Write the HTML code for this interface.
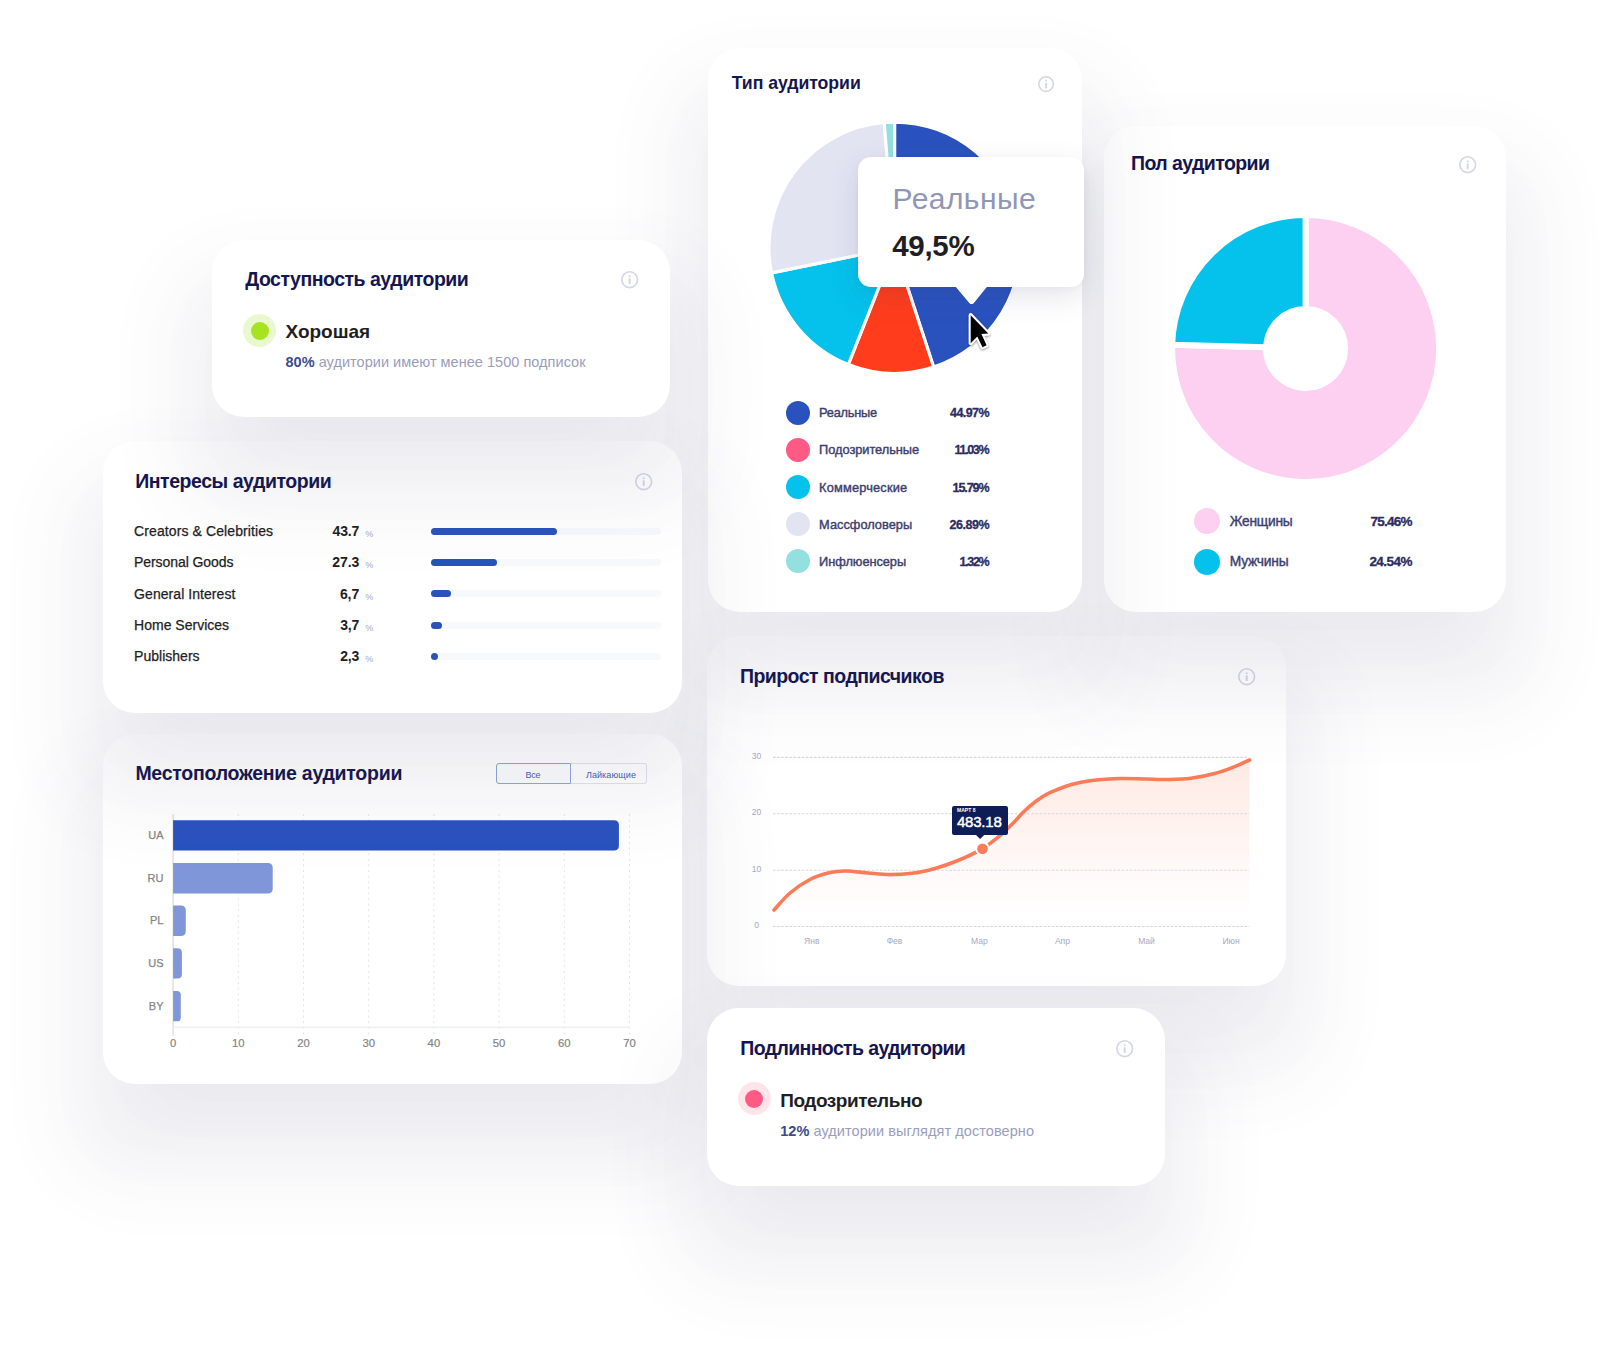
<!DOCTYPE html>
<html lang="ru">
<head>
<meta charset="utf-8">
<title>Аналитика аудитории</title>
<style>
*{box-sizing:border-box}
html,body{margin:0;padding:0;background:#fff}
body{width:1612px;height:1350px;position:relative;overflow:hidden;font-family:'Liberation Sans', sans-serif}
.abs{position:absolute}
.card{position:absolute;background:#fff;box-shadow:0 60px 64px -50px rgba(88,84,130,0.048), 0 60px 64px 0 rgba(88,84,130,0.048), 0 60px 64px 50px rgba(88,84,130,0.048)}
.layer{position:absolute;left:0;top:0;width:1612px;height:1350px;pointer-events:none}
.t{position:absolute;white-space:nowrap;line-height:1;margin:0}
.dot{border-radius:50%}
.dot i{position:absolute;left:7.5px;top:7.5px;width:18px;height:18px;border-radius:50%}
.track{background:#f8f9fd;border-radius:4px}
.track i{position:absolute;left:0;top:0;height:7px;border-radius:4px;background:#2a52be;min-width:7px}
.tog{border:1px solid #e0e2ee;background:rgba(255,255,255,0.3)}
.tog.on{border-color:#8fa5e2;background:rgba(246,247,253,0.3)}
.tip{background:#fff;border-radius:13px;box-shadow:0 10px 30px rgba(60,60,110,0.13),0 2px 6px rgba(60,60,110,0.04)}
</style>
</head>
<body>
<section class="card c1" style="left:212px;top:240px;width:458px;height:177px;z-index:7;border-radius:32px"></section>
<div class="layer" style="z-index:7">
<span class="t" style="left:245.30px;top:270.30px;font-size:19.5px;font-weight:700;color:#15164f;letter-spacing:-0.484px;">Доступность аудитории</span>
<svg class="abs" style="left:620.3px;top:270.1px" width="19.4" height="19.4" viewBox="-9.70 -9.70 19.40 19.40"><circle r="7.90" fill="none" stroke="#d5d6e6" stroke-width="1.6"/><circle cx="0" cy="-3.5" r="1.05" fill="#d5d6e6"/><rect x="-1" y="-1.4" width="2" height="5.8" rx="0.6" fill="#d5d6e6"/></svg><div class="abs dot" style="left:243px;top:314px;width:33px;height:33px;background:#e9f8cf"><i style="background:#a6e422"></i></div><span class="t" style="left:285.50px;top:322.00px;font-size:19px;font-weight:700;color:#1e1e24;letter-spacing:-0.006px;">Хорошая</span>
<span class="t" style="left:285.50px;top:355.10px;font-size:14.5px;font-weight:400;color:#9a9dbb;letter-spacing:0.032px;"><b style="color:#3d4b8d">80%</b> аудитории имеют менее 1500 подписок</span>

</div>

<section class="card c2" style="left:103px;top:441px;width:579px;height:271.5px;z-index:5;border-radius:32px"></section>
<div class="layer" style="z-index:5">
<span class="t" style="left:135.20px;top:472.10px;font-size:19.5px;font-weight:700;color:#15164f;letter-spacing:-0.457px;">Интересы аудитории</span>
<svg class="abs" style="left:634.3px;top:471.9px" width="19.4" height="19.4" viewBox="-9.70 -9.70 19.40 19.40"><circle r="7.90" fill="none" stroke="#d5d6e6" stroke-width="1.6"/><circle cx="0" cy="-3.5" r="1.05" fill="#d5d6e6"/><rect x="-1" y="-1.4" width="2" height="5.8" rx="0.6" fill="#d5d6e6"/></svg><span class="t" style="left:134.10px;top:524.10px;font-size:14px;font-weight:400;color:#1e1e24;letter-spacing:0.098px;-webkit-text-stroke:0.25px #1e1e24;">Creators &amp; Celebrities</span>
<span class="t" style="right:1253.02px;top:524.10px;font-size:14px;font-weight:700;color:#1e1e24;letter-spacing:-0.217px;">43.7</span>
<span class="t" style="left:365.20px;top:529.50px;font-size:9px;font-weight:400;color:#a3a6c8;letter-spacing:0.000px;">%</span>
<div class="abs track" style="left:431.3px;top:527.8px;width:229.7px;height:7px"><i style="width:125.6px"></i></div><span class="t" style="left:134.10px;top:555.30px;font-size:14px;font-weight:400;color:#1e1e24;letter-spacing:-0.085px;-webkit-text-stroke:0.25px #1e1e24;">Personal Goods</span>
<span class="t" style="right:1252.92px;top:555.30px;font-size:14px;font-weight:700;color:#1e1e24;letter-spacing:-0.117px;">27.3</span>
<span class="t" style="left:365.20px;top:560.70px;font-size:9px;font-weight:400;color:#a3a6c8;letter-spacing:0.000px;">%</span>
<div class="abs track" style="left:431.3px;top:559.1px;width:229.7px;height:7px"><i style="width:65.7px"></i></div><span class="t" style="left:134.10px;top:587.20px;font-size:14px;font-weight:400;color:#1e1e24;letter-spacing:0.061px;-webkit-text-stroke:0.25px #1e1e24;">General Interest</span>
<span class="t" style="right:1252.88px;top:587.20px;font-size:14px;font-weight:700;color:#1e1e24;letter-spacing:-0.084px;">6,7</span>
<span class="t" style="left:365.20px;top:592.60px;font-size:9px;font-weight:400;color:#a3a6c8;letter-spacing:0.000px;">%</span>
<div class="abs track" style="left:431.3px;top:590.4px;width:229.7px;height:7px"><i style="width:19.9px"></i></div><span class="t" style="left:134.10px;top:618.40px;font-size:14px;font-weight:400;color:#1e1e24;letter-spacing:0.007px;-webkit-text-stroke:0.25px #1e1e24;">Home Services</span>
<span class="t" style="right:1253.03px;top:618.40px;font-size:14px;font-weight:700;color:#1e1e24;letter-spacing:-0.234px;">3,7</span>
<span class="t" style="left:365.20px;top:623.80px;font-size:9px;font-weight:400;color:#a3a6c8;letter-spacing:0.000px;">%</span>
<div class="abs track" style="left:431.3px;top:621.8px;width:229.7px;height:7px"><i style="width:10.6px"></i></div><span class="t" style="left:134.10px;top:649.20px;font-size:14px;font-weight:400;color:#1e1e24;letter-spacing:0.014px;-webkit-text-stroke:0.25px #1e1e24;">Publishers</span>
<span class="t" style="right:1253.03px;top:649.20px;font-size:14px;font-weight:700;color:#1e1e24;letter-spacing:-0.234px;">2,3</span>
<span class="t" style="left:365.20px;top:654.60px;font-size:9px;font-weight:400;color:#a3a6c8;letter-spacing:0.000px;">%</span>
<div class="abs track" style="left:431.3px;top:653.1px;width:229.7px;height:7px"><i style="width:6.7px"></i></div>
</div>

<section class="card c3" style="left:103px;top:734px;width:578.5px;height:349.5px;z-index:4;border-radius:32px"></section>
<div class="layer" style="z-index:4">
<span class="t" style="left:135.40px;top:764.30px;font-size:19.5px;font-weight:700;color:#15164f;letter-spacing:-0.260px;">Местоположение аудитории</span>
<div class="abs tog on" style="left:496px;top:762.9px;width:75px;height:21.5px;border-radius:3px 0 0 3px"></div><div class="abs tog" style="left:570.5px;top:762.9px;width:76px;height:21.5px;border-radius:0 3px 3px 0;border-left:none"></div><span class="t" style="left:532.82px;transform:translateX(-50%);top:770.80px;font-size:9px;font-weight:400;color:#3f5fc3;letter-spacing:-0.358px;">Все</span>
<span class="t" style="left:610.94px;transform:translateX(-50%);top:770.80px;font-size:9px;font-weight:400;color:#3f5fc3;letter-spacing:0.090px;">Лайкающие</span>
<svg class="abs" style="left:0;top:0" width="1612" height="1350" viewBox="0 0 1612 1350"><line x1="238.3" y1="814" x2="238.3" y2="1034.5" stroke="#e4e4e6" stroke-width="1" stroke-dasharray="2 3.6"/><line x1="303.5" y1="814" x2="303.5" y2="1034.5" stroke="#e4e4e6" stroke-width="1" stroke-dasharray="2 3.6"/><line x1="368.7" y1="814" x2="368.7" y2="1034.5" stroke="#e4e4e6" stroke-width="1" stroke-dasharray="2 3.6"/><line x1="433.9" y1="814" x2="433.9" y2="1034.5" stroke="#e4e4e6" stroke-width="1" stroke-dasharray="2 3.6"/><line x1="499.1" y1="814" x2="499.1" y2="1034.5" stroke="#e4e4e6" stroke-width="1" stroke-dasharray="2 3.6"/><line x1="564.3" y1="814" x2="564.3" y2="1034.5" stroke="#e4e4e6" stroke-width="1" stroke-dasharray="2 3.6"/><line x1="629.5" y1="814" x2="629.5" y2="1034.5" stroke="#e4e4e6" stroke-width="1" stroke-dasharray="2 3.6"/><line x1="173.1" y1="814" x2="173.1" y2="1036" stroke="#d2d2d4" stroke-width="1"/><line x1="173.1" y1="1027.2" x2="629.6" y2="1027.2" stroke="#efeff1" stroke-width="1.4"/><path d="M173.1,820.2 H613.9 Q618.9,820.2 618.9,825.2 V845.6 Q618.9,850.6 613.9,850.6 H173.1 Z" fill="#2a52be"/><path d="M173.1,863 H267.7 Q272.7,863 272.7,868.0 V888.4 Q272.7,893.4 267.7,893.4 H173.1 Z" fill="#7f96d9"/><path d="M173.1,905.6 H180.8 Q185.8,905.6 185.8,910.6 V931.0 Q185.8,936.0 180.8,936.0 H173.1 Z" fill="#7f96d9"/><path d="M173.1,948.2 H177.5 Q181.9,948.2 181.9,952.6 V974.2 Q181.9,978.6 177.5,978.6 H173.1 Z" fill="#7f96d9"/><path d="M173.1,990.9 H176.9 Q180.8,990.9 180.8,994.8 V1017.4 Q180.8,1021.3 176.9,1021.3 H173.1 Z" fill="#7f96d9"/></svg><span class="t" style="right:1448.50px;top:829.80px;font-size:11px;font-weight:400;color:#858585;letter-spacing:0.000px;-webkit-text-stroke:0.25px #858585;">UA</span>
<span class="t" style="right:1448.50px;top:872.60px;font-size:11px;font-weight:400;color:#858585;letter-spacing:0.000px;-webkit-text-stroke:0.25px #858585;">RU</span>
<span class="t" style="right:1448.50px;top:915.20px;font-size:11px;font-weight:400;color:#858585;letter-spacing:0.000px;-webkit-text-stroke:0.25px #858585;">PL</span>
<span class="t" style="right:1448.50px;top:957.80px;font-size:11px;font-weight:400;color:#858585;letter-spacing:0.000px;-webkit-text-stroke:0.25px #858585;">US</span>
<span class="t" style="right:1448.50px;top:1000.50px;font-size:11px;font-weight:400;color:#858585;letter-spacing:0.000px;-webkit-text-stroke:0.25px #858585;">BY</span>
<span class="t" style="left:173.10px;transform:translateX(-50%);top:1038.00px;font-size:11.3px;font-weight:400;color:#858585;letter-spacing:0.000px;-webkit-text-stroke:0.2px #858585;">0</span>
<span class="t" style="left:238.30px;transform:translateX(-50%);top:1038.00px;font-size:11.3px;font-weight:400;color:#858585;letter-spacing:0.000px;-webkit-text-stroke:0.2px #858585;">10</span>
<span class="t" style="left:303.50px;transform:translateX(-50%);top:1038.00px;font-size:11.3px;font-weight:400;color:#858585;letter-spacing:0.000px;-webkit-text-stroke:0.2px #858585;">20</span>
<span class="t" style="left:368.70px;transform:translateX(-50%);top:1038.00px;font-size:11.3px;font-weight:400;color:#858585;letter-spacing:0.000px;-webkit-text-stroke:0.2px #858585;">30</span>
<span class="t" style="left:433.90px;transform:translateX(-50%);top:1038.00px;font-size:11.3px;font-weight:400;color:#858585;letter-spacing:0.000px;-webkit-text-stroke:0.2px #858585;">40</span>
<span class="t" style="left:499.10px;transform:translateX(-50%);top:1038.00px;font-size:11.3px;font-weight:400;color:#858585;letter-spacing:0.000px;-webkit-text-stroke:0.2px #858585;">50</span>
<span class="t" style="left:564.30px;transform:translateX(-50%);top:1038.00px;font-size:11.3px;font-weight:400;color:#858585;letter-spacing:0.000px;-webkit-text-stroke:0.2px #858585;">60</span>
<span class="t" style="left:629.50px;transform:translateX(-50%);top:1038.00px;font-size:11.3px;font-weight:400;color:#858585;letter-spacing:0.000px;-webkit-text-stroke:0.2px #858585;">70</span>

</div>

<section class="card c4" style="left:708px;top:48px;width:374px;height:564.3px;z-index:3;border-radius:32px"></section>
<div class="layer" style="z-index:3">
<span class="t" style="left:731.80px;top:74.90px;font-size:17.7px;font-weight:700;color:#15164f;letter-spacing:-0.061px;">Тип аудитории</span>
<svg class="abs" style="left:1037.4px;top:74.8px" width="18.2" height="18.2" viewBox="-9.10 -9.10 18.20 18.20"><circle r="7.30" fill="none" stroke="#d5d6e6" stroke-width="1.6"/><circle cx="0" cy="-3.5" r="1.05" fill="#d5d6e6"/><rect x="-1" y="-1.4" width="2" height="5.8" rx="0.6" fill="#d5d6e6"/></svg><svg class="abs" style="left:0;top:0" width="1612" height="1350" viewBox="0 0 1612 1350"><path d="M894.60,247.70 L894.60,122.10 A125.6,125.6 0 0 1 933.64,367.08 Z" fill="#2a52be" stroke="#fff" stroke-width="3.1" stroke-linejoin="round"/><path d="M894.60,247.70 L933.64,367.08 A125.6,125.6 0 0 1 848.36,364.48 Z" fill="#ff3d1c" stroke="#fff" stroke-width="3.1" stroke-linejoin="round"/><path d="M894.60,247.70 L848.36,364.48 A125.6,125.6 0 0 1 771.55,272.86 Z" fill="#04c2eb" stroke="#fff" stroke-width="3.1" stroke-linejoin="round"/><path d="M894.60,247.70 L771.55,272.86 A125.6,125.6 0 0 1 884.19,122.53 Z" fill="#e2e4f2" stroke="#fff" stroke-width="3.1" stroke-linejoin="round"/><path d="M894.60,247.70 L884.19,122.53 A125.6,125.6 0 0 1 894.60,122.10 Z" fill="#93e0e0" stroke="#fff" stroke-width="3.1" stroke-linejoin="round"/></svg><div class="abs" style="left:785.8px;top:400.6px;width:24px;height:24px;border-radius:50%;background:#2a52be"></div><span class="t" style="left:819.10px;top:407.30px;font-size:12.8px;font-weight:400;color:#3c3e6c;letter-spacing:-0.248px;-webkit-text-stroke:0.4px #3c3e6c;">Реальные</span>
<span class="t" style="right:622.98px;top:407.30px;font-size:12.5px;font-weight:700;color:#2b2c60;letter-spacing:-0.581px;-webkit-text-stroke:0.3px #2b2c60;">44.97%</span>
<div class="abs" style="left:785.8px;top:437.7px;width:24px;height:24px;border-radius:50%;background:#ff5a84"></div><span class="t" style="left:819.10px;top:444.40px;font-size:12.8px;font-weight:400;color:#3c3e6c;letter-spacing:-0.042px;-webkit-text-stroke:0.4px #3c3e6c;">Подозрительные</span>
<span class="t" style="right:623.74px;top:444.40px;font-size:12.5px;font-weight:700;color:#2b2c60;letter-spacing:-1.344px;-webkit-text-stroke:0.3px #2b2c60;">11.03%</span>
<div class="abs" style="left:785.8px;top:474.9px;width:24px;height:24px;border-radius:50%;background:#04c2eb"></div><span class="t" style="left:819.10px;top:481.60px;font-size:12.8px;font-weight:400;color:#3c3e6c;letter-spacing:0.166px;-webkit-text-stroke:0.4px #3c3e6c;">Коммерческие</span>
<span class="t" style="right:623.48px;top:481.60px;font-size:12.5px;font-weight:700;color:#2b2c60;letter-spacing:-1.081px;-webkit-text-stroke:0.3px #2b2c60;">15.79%</span>
<div class="abs" style="left:785.8px;top:511.8px;width:24px;height:24px;border-radius:50%;background:#e2e4f2"></div><span class="t" style="left:819.10px;top:518.50px;font-size:12.8px;font-weight:400;color:#3c3e6c;letter-spacing:0.009px;-webkit-text-stroke:0.4px #3c3e6c;">Массфоловеры</span>
<span class="t" style="right:622.88px;top:518.50px;font-size:12.5px;font-weight:700;color:#2b2c60;letter-spacing:-0.481px;-webkit-text-stroke:0.3px #2b2c60;">26.89%</span>
<div class="abs" style="left:785.8px;top:548.8px;width:24px;height:24px;border-radius:50%;background:#93e0e0"></div><span class="t" style="left:819.10px;top:555.50px;font-size:12.8px;font-weight:400;color:#3c3e6c;letter-spacing:-0.059px;-webkit-text-stroke:0.4px #3c3e6c;">Инфлюенсеры</span>
<span class="t" style="right:623.76px;top:555.50px;font-size:12.5px;font-weight:700;color:#2b2c60;letter-spacing:-1.363px;-webkit-text-stroke:0.3px #2b2c60;">1.32%</span>
<div class="abs tip" style="left:858px;top:157px;width:226px;height:130px"></div><svg class="abs" style="left:0;top:0" width="1612" height="1350" viewBox="0 0 1612 1350"><path d="M955.4,286.5 H987.2 L973.9,302.9 Q971.6,305.3 969.3,302.9 Z" fill="#fff"/></svg><span class="t" style="left:892.60px;top:184.40px;font-size:30px;font-weight:400;color:#9096b3;letter-spacing:0.426px;">Реальные</span>
<span class="t" style="left:892.20px;top:231.00px;font-size:29.5px;font-weight:700;color:#1e1e24;letter-spacing:-0.289px;">49,5%</span>
<svg class="abs" style="left:0;top:0;filter:drop-shadow(0 1px 1.2px rgba(0,0,0,0.4))" width="1612" height="1350" viewBox="0 0 1612 1350"><path d="M970.7,315.2 L988.3,333.6 L981.4,334.1 L986.6,345.3 L982.5,347.2 L977.3,336.4 L970.7,343.3 Z" fill="#000" stroke="#fff" stroke-width="4.2" stroke-linejoin="round" paint-order="stroke"/></svg>
</div>

<section class="card c5" style="left:1104px;top:126px;width:402px;height:486px;z-index:2;border-radius:32px"></section>
<div class="layer" style="z-index:2">
<span class="t" style="left:1131.00px;top:153.50px;font-size:19.5px;font-weight:700;color:#15164f;letter-spacing:-0.577px;">Пол аудитории</span>
<svg class="abs" style="left:1458.3px;top:155.2px" width="19.4" height="19.4" viewBox="-9.70 -9.70 19.40 19.40"><circle r="7.90" fill="none" stroke="#d5d6e6" stroke-width="1.6"/><circle cx="0" cy="-3.5" r="1.05" fill="#d5d6e6"/><rect x="-1" y="-1.4" width="2" height="5.8" rx="0.6" fill="#d5d6e6"/></svg><svg class="abs" style="left:0;top:0" width="1612" height="1350" viewBox="0 0 1612 1350"><path d="M1305.60,215.00 A133.5,133.5 0 1 1 1172.16,344.64 L1266.12,347.36 A39.5,39.5 0 1 0 1305.60,309.00 Z" fill="#fdcff0" stroke="#fff" stroke-width="6" stroke-linejoin="round"/><path d="M1172.16,344.64 A133.5,133.5 0 0 1 1305.60,215.00 L1305.60,309.00 A39.5,39.5 0 0 0 1266.12,347.36 Z" fill="#04c2eb" stroke="#fff" stroke-width="6" stroke-linejoin="round"/></svg><div class="abs" style="left:1194px;top:507.9px;width:26px;height:26px;border-radius:50%;background:#fdcff0"></div><span class="t" style="left:1229.70px;top:514.70px;font-size:13.8px;font-weight:400;color:#3c3e6c;letter-spacing:-0.245px;-webkit-text-stroke:0.4px #3c3e6c;">Женщины</span>
<span class="t" style="right:200.36px;top:514.70px;font-size:13.5px;font-weight:700;color:#2b2c60;letter-spacing:-0.759px;-webkit-text-stroke:0.3px #2b2c60;">75.46%</span>
<div class="abs" style="left:1194px;top:548.7px;width:26px;height:26px;border-radius:50%;background:#04c2eb"></div><span class="t" style="left:1229.70px;top:555.00px;font-size:13.8px;font-weight:400;color:#3c3e6c;letter-spacing:-0.203px;-webkit-text-stroke:0.4px #3c3e6c;">Мужчины</span>
<span class="t" style="right:200.16px;top:555.00px;font-size:13.5px;font-weight:700;color:#2b2c60;letter-spacing:-0.559px;-webkit-text-stroke:0.3px #2b2c60;">24.54%</span>

</div>

<section class="card c6" style="left:707px;top:636px;width:579px;height:350px;z-index:1;border-radius:32px"></section>
<div class="layer" style="z-index:1">
<span class="t" style="left:739.90px;top:667.40px;font-size:19.5px;font-weight:700;color:#15164f;letter-spacing:-0.523px;">Прирост подписчиков</span>
<svg class="abs" style="left:1236.9px;top:666.8px" width="19.4" height="19.4" viewBox="-9.70 -9.70 19.40 19.40"><circle r="7.90" fill="none" stroke="#d5d6e6" stroke-width="1.6"/><circle cx="0" cy="-3.5" r="1.05" fill="#d5d6e6"/><rect x="-1" y="-1.4" width="2" height="5.8" rx="0.6" fill="#d5d6e6"/></svg><svg class="abs" style="left:0;top:0" width="1612" height="1350" viewBox="0 0 1612 1350"><defs><linearGradient id="ag" x1="0" y1="760" x2="0" y2="915" gradientUnits="userSpaceOnUse"><stop offset="0" stop-color="#fa7f5d" stop-opacity="0.17"/><stop offset="1" stop-color="#fa7f5d" stop-opacity="0"/></linearGradient></defs><path d="M774,910 C776.7,907.2 784.0,898.1 790,893 C796.0,887.9 803.3,882.9 810,879.5 C816.7,876.1 824.0,874.0 830,872.6 C836.0,871.2 839.7,870.9 846,871 C852.3,871.1 860.7,872.4 868,873 C875.3,873.6 882.7,874.6 890,874.6 C897.3,874.6 904.5,874.3 912,873.3 C919.5,872.3 927.3,870.5 935,868.4 C942.7,866.3 950.1,863.8 958,860.5 C965.9,857.2 975.5,852.8 982.5,848.6 C989.5,844.4 995.1,839.5 1000,835.5 C1004.9,831.5 1008.0,828.2 1012,824.3 C1016.0,820.3 1019.9,815.5 1023.7,811.8 C1027.5,808.1 1031.0,805.0 1035,802 C1039.0,799.0 1042.8,796.2 1048,793.6 C1053.2,791.0 1060.7,788.1 1066,786.2 C1071.3,784.3 1075.3,783.4 1080,782.4 C1084.7,781.4 1087.3,780.9 1094,780.2 C1100.7,779.6 1111.3,778.7 1120,778.5 C1128.7,778.3 1137.7,778.8 1146,779 C1154.3,779.2 1162.5,779.6 1170,779.5 C1177.5,779.4 1183.5,779.3 1191,778.3 C1198.5,777.3 1207.6,775.5 1214.7,773.6 C1221.8,771.8 1227.7,769.5 1233.5,767.2 C1239.3,764.9 1246.9,761.2 1249.6,760 L1249.2,926 L774,926 Z" fill="url(#ag)"/><line x1="773" y1="757.4" x2="1249.3" y2="757.4" stroke="#d8d8de" stroke-width="1.1" stroke-dasharray="2.6 1.5"/><line x1="773" y1="813.7" x2="1249.3" y2="813.7" stroke="#d8d8de" stroke-width="1.1" stroke-dasharray="2.6 1.5"/><line x1="773" y1="870.3" x2="1249.3" y2="870.3" stroke="#d8d8de" stroke-width="1.1" stroke-dasharray="2.6 1.5"/><line x1="773" y1="926.5" x2="1249.3" y2="926.5" stroke="#d8d8de" stroke-width="1.1" stroke-dasharray="2.6 1.5"/><path d="M774,910 C776.7,907.2 784.0,898.1 790,893 C796.0,887.9 803.3,882.9 810,879.5 C816.7,876.1 824.0,874.0 830,872.6 C836.0,871.2 839.7,870.9 846,871 C852.3,871.1 860.7,872.4 868,873 C875.3,873.6 882.7,874.6 890,874.6 C897.3,874.6 904.5,874.3 912,873.3 C919.5,872.3 927.3,870.5 935,868.4 C942.7,866.3 950.1,863.8 958,860.5 C965.9,857.2 975.5,852.8 982.5,848.6 C989.5,844.4 995.1,839.5 1000,835.5 C1004.9,831.5 1008.0,828.2 1012,824.3 C1016.0,820.3 1019.9,815.5 1023.7,811.8 C1027.5,808.1 1031.0,805.0 1035,802 C1039.0,799.0 1042.8,796.2 1048,793.6 C1053.2,791.0 1060.7,788.1 1066,786.2 C1071.3,784.3 1075.3,783.4 1080,782.4 C1084.7,781.4 1087.3,780.9 1094,780.2 C1100.7,779.6 1111.3,778.7 1120,778.5 C1128.7,778.3 1137.7,778.8 1146,779 C1154.3,779.2 1162.5,779.6 1170,779.5 C1177.5,779.4 1183.5,779.3 1191,778.3 C1198.5,777.3 1207.6,775.5 1214.7,773.6 C1221.8,771.8 1227.7,769.5 1233.5,767.2 C1239.3,764.9 1246.9,761.2 1249.6,760" fill="none" stroke="#fa7b58" stroke-width="3.6" stroke-linecap="round"/><circle cx="982.5" cy="848.7" r="7.2" fill="#fff"/><circle cx="982.5" cy="848.7" r="5.3" fill="#fa7b58"/><path d="M954,806 H1006 Q1008,806 1008,808 V833 Q1008,835 1006,835 H984.2 L980.1,839 L976,835 H954 Q952,835 952,833 V808 Q952,806 954,806 Z" fill="#0e1d56"/></svg><span class="t" style="left:957.00px;top:814.10px;font-size:15px;font-weight:400;color:#fff;letter-spacing:-0.218px;-webkit-text-stroke:0.45px #fff;">483.18</span>
<span class="t" style="left:957.00px;top:808.20px;font-size:5px;font-weight:700;color:#fff;letter-spacing:0.044px;">МАРТ 8</span>
<span class="t" style="left:756.60px;transform:translateX(-50%);top:752.00px;font-size:8.5px;font-weight:400;color:#a6a9c3;letter-spacing:0.000px;">30</span>
<span class="t" style="left:756.60px;transform:translateX(-50%);top:808.30px;font-size:8.5px;font-weight:400;color:#a6a9c3;letter-spacing:0.000px;">20</span>
<span class="t" style="left:756.60px;transform:translateX(-50%);top:864.90px;font-size:8.5px;font-weight:400;color:#a6a9c3;letter-spacing:0.000px;">10</span>
<span class="t" style="left:756.60px;transform:translateX(-50%);top:921.10px;font-size:8.5px;font-weight:400;color:#a6a9c3;letter-spacing:0.000px;">0</span>
<span class="t" style="left:811.80px;transform:translateX(-50%);top:937.20px;font-size:8.5px;font-weight:400;color:#a6a9c3;letter-spacing:0.000px;">Янв</span>
<span class="t" style="left:894.50px;transform:translateX(-50%);top:937.20px;font-size:8.5px;font-weight:400;color:#a6a9c3;letter-spacing:0.000px;">Фев</span>
<span class="t" style="left:979.40px;transform:translateX(-50%);top:937.20px;font-size:8.5px;font-weight:400;color:#a6a9c3;letter-spacing:0.000px;">Мар</span>
<span class="t" style="left:1062.40px;transform:translateX(-50%);top:937.20px;font-size:8.5px;font-weight:400;color:#a6a9c3;letter-spacing:0.000px;">Апр</span>
<span class="t" style="left:1146.50px;transform:translateX(-50%);top:937.20px;font-size:8.5px;font-weight:400;color:#a6a9c3;letter-spacing:0.000px;">Май</span>
<span class="t" style="left:1231.00px;transform:translateX(-50%);top:937.20px;font-size:8.5px;font-weight:400;color:#a6a9c3;letter-spacing:0.000px;">Июн</span>

</div>

<section class="card c7" style="left:707px;top:1008px;width:458px;height:177.5px;z-index:6;border-radius:32px"></section>
<div class="layer" style="z-index:6">
<span class="t" style="left:740.30px;top:1039.30px;font-size:19.5px;font-weight:700;color:#15164f;letter-spacing:-0.630px;">Подлинность аудитории</span>
<svg class="abs" style="left:1115.1px;top:1038.8px" width="19.4" height="19.4" viewBox="-9.70 -9.70 19.40 19.40"><circle r="7.90" fill="none" stroke="#d5d6e6" stroke-width="1.6"/><circle cx="0" cy="-3.5" r="1.05" fill="#d5d6e6"/><rect x="-1" y="-1.4" width="2" height="5.8" rx="0.6" fill="#d5d6e6"/></svg><div class="abs dot" style="left:737.7px;top:1082.4px;width:33px;height:33px;background:#ffe4ea"><i style="background:#ff5a84"></i></div><span class="t" style="left:780.20px;top:1090.50px;font-size:19px;font-weight:700;color:#1e1e24;letter-spacing:-0.456px;">Подозрительно</span>
<span class="t" style="left:780.20px;top:1124.30px;font-size:14.5px;font-weight:400;color:#9a9dbb;letter-spacing:0.069px;"><b style="color:#3d4b8d">12%</b> аудитории выглядят достоверно</span>

</div>

</body>
</html>
